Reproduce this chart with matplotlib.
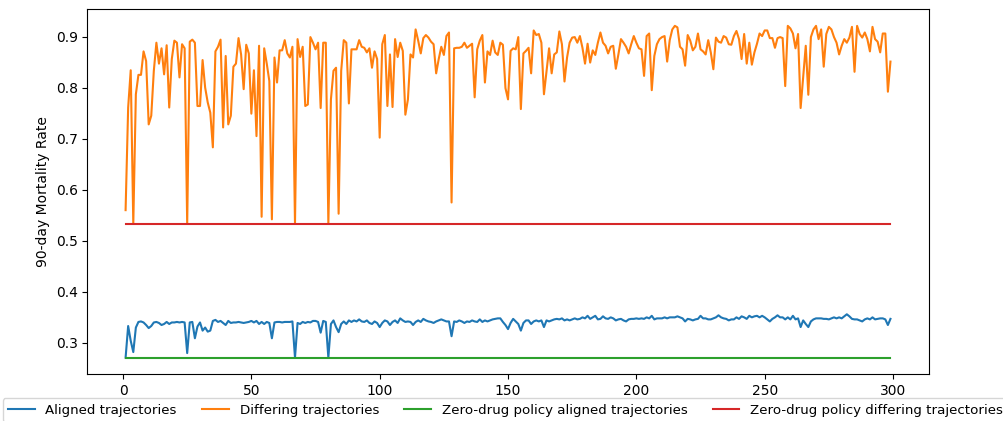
import numpy as np
import matplotlib
matplotlib.use('Agg')
import matplotlib.pyplot as plt

# mortality per evaluation run
aligned = [
    0.271, 0.333, 0.304, 0.282, 0.330, 0.341, 0.342, 0.340, 0.335, 0.329,
    0.333, 0.340, 0.341, 0.339, 0.335, 0.337, 0.341, 0.337, 0.340, 0.340,
    0.341, 0.340, 0.341, 0.340, 0.280, 0.340, 0.341, 0.309, 0.332, 0.340,
    0.324, 0.330, 0.322, 0.324, 0.343, 0.345, 0.341, 0.343, 0.339, 0.335,
    0.343, 0.339, 0.340, 0.340, 0.341, 0.340, 0.339, 0.340, 0.341, 0.343,
    0.340, 0.343, 0.337, 0.341, 0.337, 0.341, 0.339, 0.309, 0.340, 0.341,
    0.341, 0.340, 0.341, 0.341, 0.341, 0.342, 0.271, 0.339, 0.337, 0.341,
    0.339, 0.341, 0.340, 0.343, 0.343, 0.341, 0.320, 0.343, 0.341, 0.271,
    0.337, 0.344, 0.331, 0.321, 0.337, 0.342, 0.337, 0.344, 0.341, 0.344,
    0.342, 0.346, 0.342, 0.341, 0.344, 0.339, 0.337, 0.342, 0.339, 0.331,
    0.339, 0.344, 0.342, 0.335, 0.341, 0.344, 0.339, 0.348, 0.344, 0.341,
    0.342, 0.341, 0.335, 0.341, 0.344, 0.341, 0.347, 0.344, 0.342, 0.341,
    0.339, 0.342, 0.344, 0.346, 0.344, 0.342, 0.342, 0.313, 0.342, 0.341,
    0.344, 0.342, 0.339, 0.342, 0.341, 0.344, 0.342, 0.341, 0.346, 0.341,
    0.344, 0.342, 0.344, 0.346, 0.347, 0.348, 0.348, 0.341, 0.335, 0.327,
    0.339, 0.347, 0.342, 0.337, 0.324, 0.339, 0.344, 0.344, 0.337, 0.342,
    0.344, 0.342, 0.344, 0.331, 0.344, 0.342, 0.344, 0.346, 0.347, 0.346,
    0.348, 0.344, 0.346, 0.344, 0.346, 0.348, 0.346, 0.347, 0.350, 0.348,
    0.353, 0.347, 0.350, 0.353, 0.346, 0.347, 0.352, 0.348, 0.347, 0.350,
    0.348, 0.344, 0.346, 0.347, 0.344, 0.342, 0.346, 0.347, 0.347, 0.348,
    0.347, 0.348, 0.347, 0.350, 0.348, 0.353, 0.346, 0.348, 0.348, 0.348,
    0.350, 0.348, 0.350, 0.350, 0.350, 0.352, 0.350, 0.348, 0.342, 0.347,
    0.346, 0.344, 0.346, 0.347, 0.353, 0.348, 0.348, 0.346, 0.346, 0.348,
    0.350, 0.354, 0.350, 0.348, 0.347, 0.344, 0.346, 0.346, 0.350, 0.347,
    0.352, 0.350, 0.347, 0.353, 0.350, 0.352, 0.353, 0.350, 0.353, 0.350,
    0.346, 0.342, 0.347, 0.350, 0.354, 0.350, 0.350, 0.346, 0.350, 0.346,
    0.353, 0.346, 0.348, 0.331, 0.344, 0.337, 0.331, 0.342, 0.346, 0.348,
    0.348, 0.348, 0.347, 0.347, 0.346, 0.348, 0.350, 0.348, 0.350, 0.348,
    0.352, 0.356, 0.352, 0.347, 0.346, 0.346, 0.344, 0.342, 0.346, 0.348,
    0.346, 0.350, 0.346, 0.347, 0.348, 0.348, 0.346, 0.335, 0.347,
]

differing = [
    0.560, 0.761, 0.834, 0.533, 0.787, 0.825, 0.825, 0.871, 0.852, 0.728,
    0.745, 0.833, 0.888, 0.847, 0.877, 0.826, 0.883, 0.761, 0.856, 0.892,
    0.888, 0.820, 0.885, 0.877, 0.533, 0.890, 0.894, 0.888, 0.764, 0.764,
    0.854, 0.800, 0.771, 0.751, 0.683, 0.871, 0.880, 0.894, 0.722, 0.862,
    0.728, 0.745, 0.841, 0.847, 0.897, 0.865, 0.797, 0.884, 0.867, 0.749,
    0.834, 0.705, 0.882, 0.547, 0.877, 0.847, 0.813, 0.542, 0.859, 0.810,
    0.873, 0.873, 0.893, 0.867, 0.859, 0.880, 0.533, 0.895, 0.860, 0.880,
    0.764, 0.767, 0.899, 0.888, 0.875, 0.888, 0.760, 0.888, 0.888, 0.533,
    0.777, 0.833, 0.839, 0.553, 0.833, 0.893, 0.888, 0.769, 0.875, 0.875,
    0.875, 0.893, 0.880, 0.878, 0.869, 0.877, 0.839, 0.871, 0.856, 0.702,
    0.885, 0.903, 0.764, 0.865, 0.762, 0.895, 0.860, 0.888, 0.872, 0.747,
    0.777, 0.865, 0.859, 0.914, 0.892, 0.867, 0.897, 0.903, 0.898, 0.890,
    0.885, 0.828, 0.856, 0.880, 0.864, 0.901, 0.908, 0.575, 0.877, 0.878,
    0.878, 0.880, 0.888, 0.878, 0.882, 0.886, 0.781, 0.875, 0.892, 0.903,
    0.810, 0.871, 0.864, 0.892, 0.869, 0.864, 0.888, 0.884, 0.799, 0.777,
    0.872, 0.877, 0.875, 0.899, 0.758, 0.867, 0.872, 0.878, 0.828, 0.912,
    0.903, 0.905, 0.888, 0.787, 0.833, 0.877, 0.828, 0.865, 0.869, 0.910,
    0.885, 0.812, 0.859, 0.888, 0.898, 0.899, 0.888, 0.901, 0.878, 0.847,
    0.886, 0.849, 0.873, 0.864, 0.888, 0.908, 0.888, 0.882, 0.867, 0.880,
    0.882, 0.837, 0.865, 0.895, 0.888, 0.880, 0.867, 0.885, 0.901, 0.888,
    0.877, 0.875, 0.823, 0.901, 0.906, 0.795, 0.862, 0.885, 0.895, 0.899,
    0.901, 0.851, 0.893, 0.914, 0.921, 0.918, 0.880, 0.875, 0.843, 0.903,
    0.892, 0.873, 0.880, 0.906, 0.875, 0.871, 0.865, 0.893, 0.869, 0.836,
    0.898, 0.890, 0.888, 0.901, 0.898, 0.885, 0.884, 0.901, 0.911, 0.895,
    0.856, 0.905, 0.847, 0.888, 0.845, 0.869, 0.886, 0.906, 0.901, 0.912,
    0.912, 0.897, 0.897, 0.878, 0.897, 0.899, 0.897, 0.803, 0.921, 0.916,
    0.906, 0.877, 0.905, 0.760, 0.820, 0.882, 0.786, 0.899, 0.914, 0.921,
    0.895, 0.914, 0.841, 0.905, 0.919, 0.914, 0.899, 0.888, 0.865, 0.882,
    0.895, 0.888, 0.898, 0.919, 0.831, 0.921, 0.905, 0.898, 0.908, 0.895,
    0.871, 0.919, 0.895, 0.890, 0.869, 0.906, 0.906, 0.792, 0.851,
]

zero_drug_aligned = 0.271
zero_drug_differing = 0.533

runs = np.arange(1, len(aligned) + 1)

fig = plt.figure(figsize=(10.04, 4.21), dpi=100)
ax = fig.add_axes([0.087, 0.111, 0.838, 0.867])

ax.plot(runs, aligned, label='Aligned trajectories')
ax.plot(runs, differing, label='Differing trajectories')
ax.plot(runs, [zero_drug_aligned] * len(runs), label='Zero-drug policy aligned trajectories')
ax.plot(runs, [zero_drug_differing] * len(runs), label='Zero-drug policy differing trajectories')

ax.set_ylabel('90-day Mortality Rate')
ax.legend(loc='upper center', bbox_to_anchor=(0.497, -0.055), ncol=4,
          fontsize=9.6, columnspacing=1.9, borderaxespad=0.3)

plt.savefig('out.png', dpi=100)
plt.close()
